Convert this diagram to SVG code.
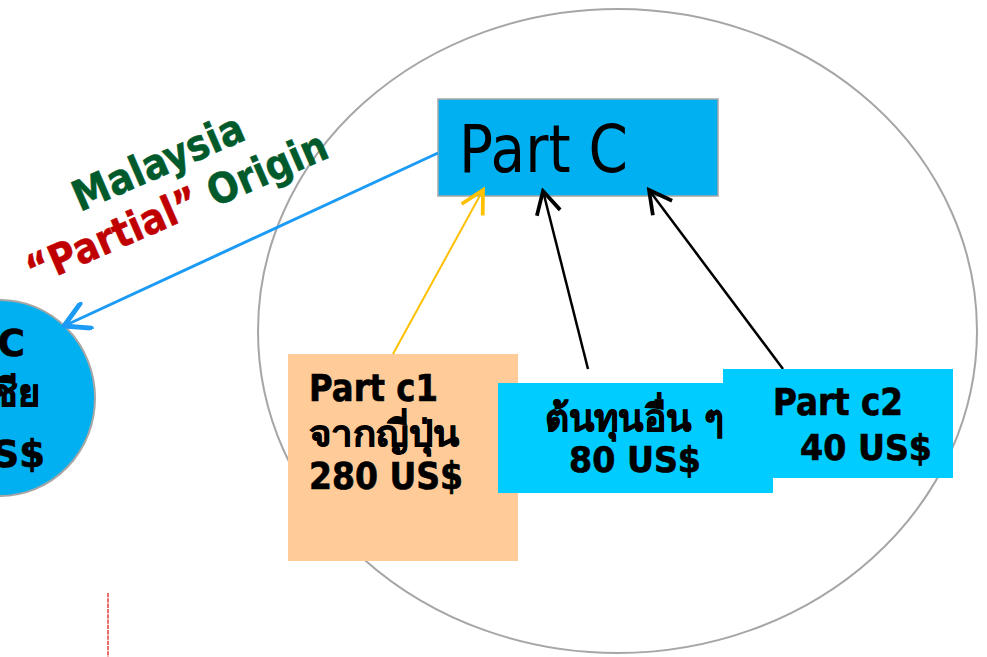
<svg xmlns="http://www.w3.org/2000/svg" width="987" height="657" viewBox="0 0 987 657">
<style>
.bold{font-family:"DejaVu Sans","Noto Sans",sans-serif;font-weight:bold;fill:#000;stroke:#000;stroke-width:0.7px}
.lbl{font-family:"DejaVu Sans","Noto Sans",sans-serif;font-weight:bold;font-size:42px}
.green{fill:#005A2B;stroke:#005A2B;stroke-width:0.5px}
.red{fill:#C00000;stroke:#C00000;stroke-width:0.5px}
</style>
<defs>
<marker id="ahBlue" markerUnits="userSpaceOnUse" markerWidth="30" markerHeight="30" refX="18" refY="10" orient="auto" viewBox="0 0 20 20">
<polyline points="2,1 18,10 2,19" fill="none" stroke="#1B9BF5" stroke-width="3.2" stroke-linecap="round" stroke-linejoin="round"/>
</marker>
<marker id="ahYellow" markerUnits="userSpaceOnUse" markerWidth="30" markerHeight="30" refX="18" refY="10" orient="auto" viewBox="0 0 20 20">
<polyline points="3,2 18,10 3,18" fill="none" stroke="#FFC000" stroke-width="2.5" stroke-linejoin="miter"/>
</marker>
<marker id="ahBlack" markerUnits="userSpaceOnUse" markerWidth="30" markerHeight="30" refX="18" refY="10" orient="auto" viewBox="0 0 20 20">
<polyline points="3,2 18,10 3,18" fill="none" stroke="#000" stroke-width="2.5" stroke-linejoin="miter"/>
</marker>
</defs>
<rect width="987" height="657" fill="#fff"/>

<g id="outer-circle">
<ellipse cx="617.5" cy="331" rx="359.5" ry="322" fill="none" stroke="#A6A6A6" stroke-width="2"/>
</g>

<g id="malaysia-node">
<ellipse cx="0" cy="398" rx="95" ry="98" fill="#00B0F0" stroke="#A6A6A6" stroke-width="2"/>
<text class="bold" font-size="37" x="25" y="356" text-anchor="end">C</text>
<text class="bold" font-size="38" x="40" y="406" text-anchor="end">ชีย</text>
<text class="bold" font-size="37" x="45" y="467" text-anchor="end">S$</text>
</g>

<g id="part-c">
<rect x="438" y="99" width="280" height="97" fill="#00B0F0" stroke="#A6A6A6" stroke-width="1.5"/>
<text font-family="DejaVu Sans, Noto Sans, sans-serif" font-size="65" x="459" y="172" textLength="169" lengthAdjust="spacingAndGlyphs" fill="#000">Part C</text>
</g>

<g id="connectors">
<line x1="438" y1="153" x2="64" y2="326" stroke="#1B9BF5" stroke-width="3" marker-end="url(#ahBlue)"/>
<line x1="393" y1="354" x2="483" y2="190" stroke="#FFC000" stroke-width="2" marker-end="url(#ahYellow)"/>
<line x1="588" y1="369" x2="543" y2="191" stroke="#000" stroke-width="2.5" marker-end="url(#ahBlack)"/>
<line x1="783" y1="369" x2="649" y2="190" stroke="#000" stroke-width="2.5" marker-end="url(#ahBlack)"/>
</g>

<g id="label-origin">
<text class="lbl green" transform="translate(80,212) rotate(-23.5)" textLength="183" lengthAdjust="spacingAndGlyphs">Malaysia</text>
<text class="lbl" transform="translate(34,286) rotate(-23.5)" textLength="324" lengthAdjust="spacingAndGlyphs"><tspan class="red">“Partial”</tspan><tspan class="green"> Origin</tspan></text>
</g>

<g id="part-c1">
<rect x="288" y="354" width="230" height="207" fill="#FFCC99"/>
<text class="bold" font-size="37" x="309" y="401" textLength="129" lengthAdjust="spacingAndGlyphs">Part c1</text>
<text class="bold" font-size="36" x="309" y="446" textLength="151" lengthAdjust="spacingAndGlyphs">จากญี่ปุ่น</text>
<text class="bold" font-size="37" x="309" y="489" textLength="154" lengthAdjust="spacingAndGlyphs">280 US$</text>
</g>

<g id="other-costs">
<rect x="498" y="383" width="275" height="110" fill="#00CCFF"/>
<text class="bold" font-size="37" x="545" y="431" textLength="179" lengthAdjust="spacingAndGlyphs">ต้นทุนอื่น ๆ</text>
<text class="bold" font-size="36" x="569" y="472" textLength="132" lengthAdjust="spacingAndGlyphs">80 US$</text>
</g>

<g id="part-c2">
<rect x="723" y="369" width="230" height="109" fill="#00CCFF"/>
<text class="bold" font-size="37" x="773" y="415" textLength="130" lengthAdjust="spacingAndGlyphs">Part c2</text>
<text class="bold" font-size="36" x="800" y="460" textLength="132" lengthAdjust="spacingAndGlyphs">40 US$</text>
</g>

<g id="dotted-line">
<line x1="108" y1="593" x2="108" y2="657" stroke="#E03C3C" stroke-width="1.5" stroke-dasharray="4.3 1"/>
</g>
</svg>
